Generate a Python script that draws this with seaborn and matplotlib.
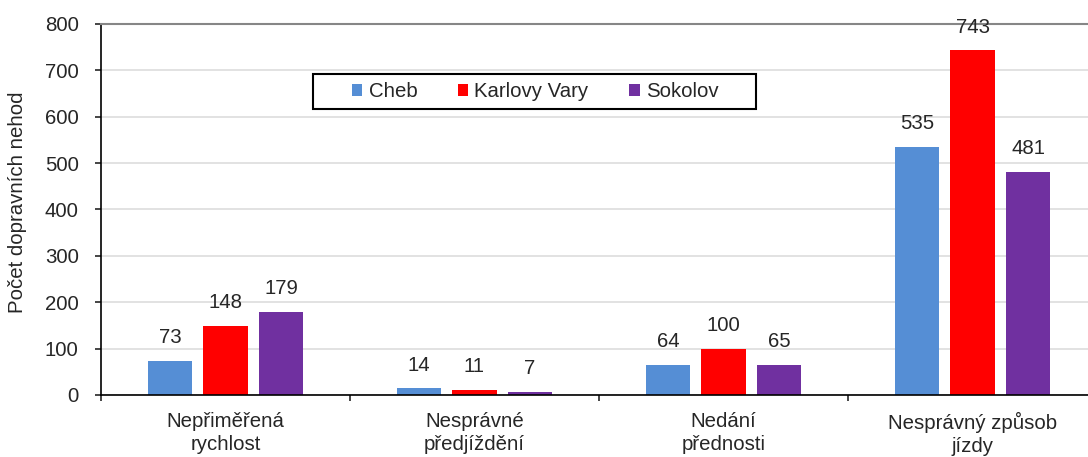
import pandas as pd
import matplotlib.pyplot as plt
import seaborn as sns
from matplotlib.patches import Rectangle
from matplotlib.ticker import FixedLocator

categories = ['Nepřiměřená\nrychlost', 'Nesprávné\npředjíždění', 'Nedání\npřednosti', 'Nesprávný způsob\njízdy']
districts = ['Cheb', 'Karlovy Vary', 'Sokolov']
cheb = [73, 14, 64, 535]
karlovy_vary = [148, 11, 100, 743]
sokolov = [179, 7, 65, 481]
colors = ['#558ED5', '#FF0000', '#7030A0']

rows = []
for name, vals in zip(districts, [cheb, karlovy_vary, sokolov]):
    for cat, v in zip(categories, vals):
        rows.append({'Příčina': cat, 'Okres': name, 'Počet': v})
df = pd.DataFrame(rows)

sns.set_style('white')
plt.rcParams['font.family'] = ['Liberation Sans', 'DejaVu Sans']
fs = 14.7

fig = plt.figure(figsize=(10.88, 4.57), dpi=100)
ax = fig.add_axes([0.0928, 0.1357, 0.9155, 0.8118])

sns.barplot(data=df, x='Příčina', y='Počet', hue='Okres', order=categories,
            hue_order=districts, palette=colors, width=0.67, gap=0.2,
            saturation=1, linewidth=0, ax=ax)

for cont in ax.containers:
    ax.bar_label(cont, padding=10, fontsize=fs)

ax.set_ylim(0, 800)
ax.set_yticks(range(0, 801, 100))
ax.set_xlim(-0.5, 3.5)
ax.yaxis.grid(True, color='#DDDDDD', lw=1.2)
ax.set_axisbelow(True)

ax.set_xlabel('')
ax.set_ylabel('Počet dopravních nehod', fontsize=fs)
ax.yaxis.set_label_coords(-0.074, 0.52)

ax.tick_params(axis='y', left=True, length=4, width=1.2, pad=12, labelsize=fs, direction='out')
ax.tick_params(axis='x', which='major', length=0, pad=12, labelsize=fs)
ax.xaxis.set_minor_locator(FixedLocator([-0.5, 0.5, 1.5, 2.5, 3.5]))
ax.tick_params(axis='x', which='minor', bottom=True, length=4, width=1.2, direction='out')

for s in ['left', 'bottom']:
    ax.spines[s].set_color('black')
    ax.spines[s].set_linewidth(1.2)
ax.spines['top'].set_color('#868686')
ax.spines['top'].set_linewidth(1.5)
ax.spines['right'].set_visible(False)

ax.legend(ncol=3, loc='center', bbox_to_anchor=(0.436, 0.818), frameon=False,
          fontsize=fs, handlelength=0.5, handleheight=0.5, handletextpad=0.3,
          columnspacing=2.0)
ax.add_patch(Rectangle((0.2129, 0.771), 0.4448, 0.0943, transform=ax.transAxes,
                       fill=False, edgecolor='black', lw=1.5, clip_on=False, zorder=5))

# wider line spacing for the two-line category labels
fig.canvas.draw()
for tick in ax.xaxis.get_major_ticks():
    tick.label1.set_linespacing(1.3)

fig.savefig('out.png', dpi=100)
